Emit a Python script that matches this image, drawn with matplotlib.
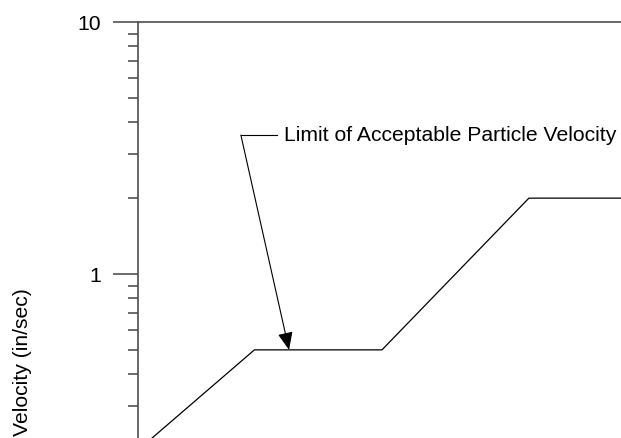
import matplotlib
matplotlib.use("Agg")
import matplotlib.pyplot as plt
from matplotlib.ticker import LogLocator, NullFormatter, FixedFormatter, FixedLocator

# limit curve: frequency (Hz) vs particle velocity (in/sec)
freq = [1, 3, 10, 40, 100]
velocity = [0.2, 0.5, 0.5, 2.0, 2.0]

y_major = [1, 10]
y_major_labels = ["1", "10"]

label_text = "Limit of Acceptable Particle Velocity"
arrow_tip = (4.16, 0.5)
leader_elbow = (2.64, 3.56)
leader_end = 3.70
text_pos = (3.97, 3.56)

plt.rcParams['font.family'] = ['Liberation Sans', 'DejaVu Sans']

fig = plt.figure(figsize=(6.21, 4.38), dpi=100)
# axes run past the bottom and right edges of the picture
ax = fig.add_axes([138 / 621, (438 - 526) / 438, 488 / 621, 504 / 438])

ax.plot(freq, velocity, color='black', lw=0.9)
ax.set_xscale('log')
ax.set_yscale('log')
ax.set_xlim(1, 100)
ax.set_ylim(0.1, 10)

# x axis sits below the visible area
ax.tick_params(axis='x', which='both', bottom=False, labelbottom=False)

ax.yaxis.set_major_locator(FixedLocator(y_major))
ax.yaxis.set_major_formatter(FixedFormatter(y_major_labels))
ax.yaxis.set_minor_locator(LogLocator(base=10, subs=range(2, 10)))
ax.yaxis.set_minor_formatter(NullFormatter())
ax.tick_params(axis='y', which='major', length=18, width=1.1, color='#444444',
               pad=8.5, labelsize=15.2)
ax.tick_params(axis='y', which='minor', length=7.2, width=1.1, color='#444444')

for s in ax.spines.values():
    s.set_color('#4d4d4d')
    s.set_linewidth(1.2)

# leader + arrow
ax.plot([leader_elbow[0], leader_end], [leader_elbow[1], leader_elbow[1]],
        color='black', lw=0.8)
ax.annotate('', xy=arrow_tip, xytext=leader_elbow,
            arrowprops=dict(arrowstyle='-|>,head_length=0.54,head_width=0.23',
                            color='black', lw=0.8, shrinkA=0, shrinkB=0,
                            mutation_scale=20))
ax.text(text_pos[0], text_pos[1], label_text, fontsize=15.2, va='center', ha='left')

fig.text(23 / 621, 1 - 362 / 438, "Velocity (in/sec)", rotation=90,
         ha='center', va='center', fontsize=15.2)

fig.savefig('out.png', dpi=100)
